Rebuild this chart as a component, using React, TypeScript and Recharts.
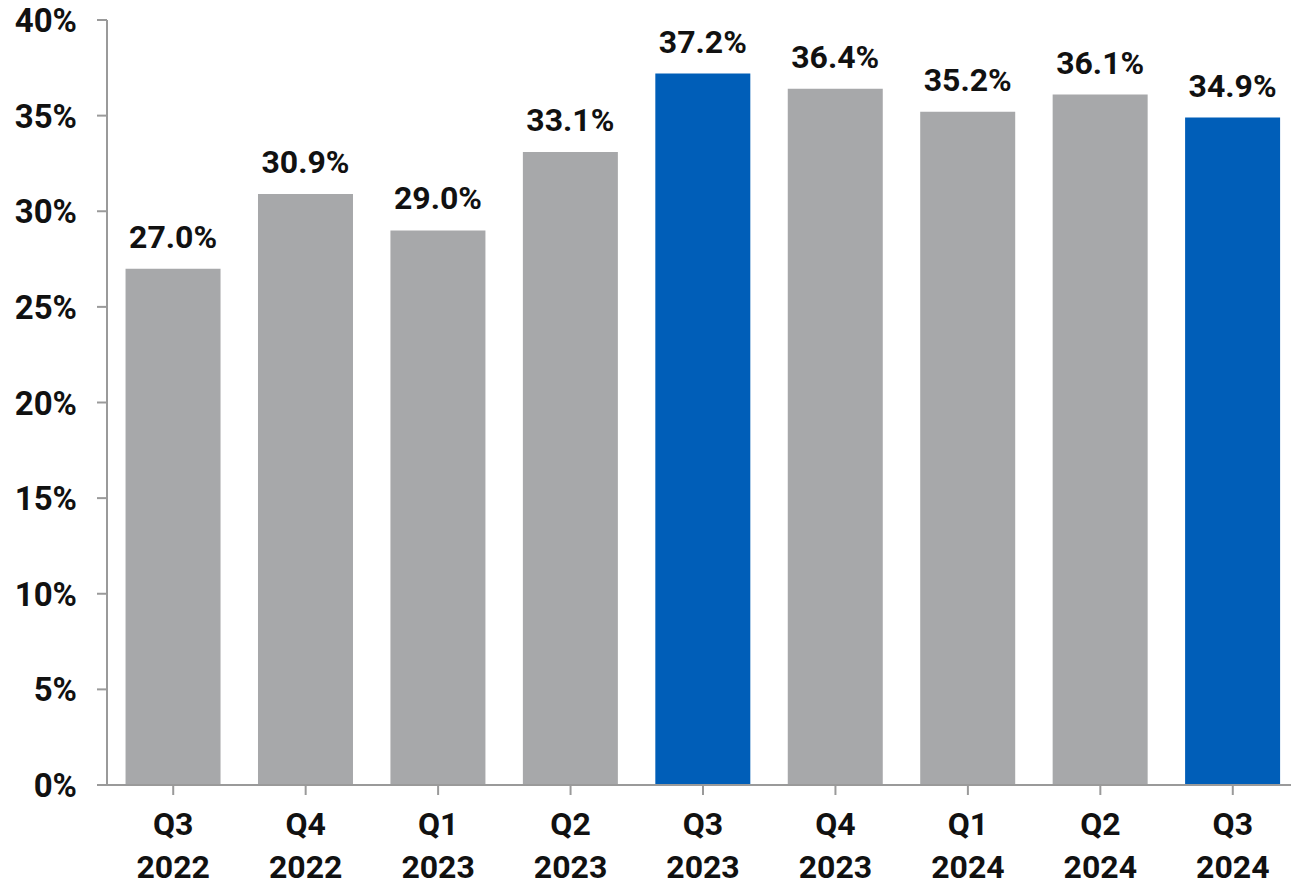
import { Bar, BarChart, Cell, LabelList, XAxis, YAxis } from "recharts";

const quarters = ["Q3", "Q4", "Q1", "Q2", "Q3", "Q4", "Q1", "Q2", "Q3"];
const years = ["2022", "2022", "2023", "2023", "2023", "2023", "2024", "2024", "2024"];
const shares = [27.0, 30.9, 29.0, 33.1, 37.2, 36.4, 35.2, 36.1, 34.9];
const highlighted = [false, false, false, false, true, false, false, false, true];
const yTicks = [0, 5, 10, 15, 20, 25, 30, 35, 40];

const data = quarters.map((q, i) => ({
  name: `${q} ${years[i]}`,
  quarter: q,
  year: years[i],
  value: shares[i],
}));

const FONT = "Roboto, sans-serif";
const WEIGHT = 700;
const GRAY = "#A7A8AA";
const BLUE = "#005EB8";

const XTick = (props: any) => {
  const { x, y, index } = props;
  return (
    <g transform={`translate(${x},${y})`}>
      <text textAnchor="middle" fontFamily={FONT} fontWeight={WEIGHT} fontSize={32} fill="#111">
        <tspan x={0} y={38}>{quarters[index]}</tspan>
        <tspan x={0} y={81}>{years[index]}</tspan>
      </text>
    </g>
  );
};

const YTick = (props: any) => {
  const { x, y, payload } = props;
  return (
    <text
      x={x}
      y={y + 12}
      textAnchor="end"
      fontFamily={FONT}
      fontWeight={WEIGHT}
      fontSize={33}
      fill="#111"
    >
      {payload.value}%
    </text>
  );
};

const TopLabel = (props: any) => {
  const { x, y, width, value } = props;
  return (
    <text
      x={x + width / 2}
      y={y - 21}
      textAnchor="middle"
      fontFamily={FONT}
      fontWeight={WEIGHT}
      fontSize={32}
      fill="#111"
    >
      {value.toFixed(1)}%
    </text>
  );
};

const App: React.FC = () => {
  return (
    <div style={{ position: "absolute", left: 0, top: 0, width: 1291, height: 886, overflow: "hidden" }}>
      <BarChart
        width={1299}
        height={886}
        data={data}
        margin={{ top: 20, right: 0, bottom: 0, left: 0 }}
        barCategoryGap="14%"
      >
        <XAxis
          dataKey="name"
          height={101}
          interval={0}
          axisLine={{ stroke: "#9a9a9a", strokeWidth: 2 }}
          tickLine={{ stroke: "#9a9a9a", strokeWidth: 2 }}
          tickSize={10}
          tick={<XTick />}
        />
        <YAxis
          width={107}
          domain={[0, 40]}
          ticks={yTicks}
          interval={0}
          axisLine={{ stroke: "#9a9a9a", strokeWidth: 2 }}
          tickLine={{ stroke: "#9a9a9a", strokeWidth: 2 }}
          tickSize={10}
          tickMargin={20}
          tick={<YTick />}
        />
        <Bar dataKey="value" isAnimationActive={false}>
          {data.map((d, i) => (
            <Cell key={`cell-${i}`} fill={highlighted[i] ? BLUE : GRAY} />
          ))}
          <LabelList dataKey="value" content={<TopLabel />} />
        </Bar>
      </BarChart>
    </div>
  );
};

export default App;
